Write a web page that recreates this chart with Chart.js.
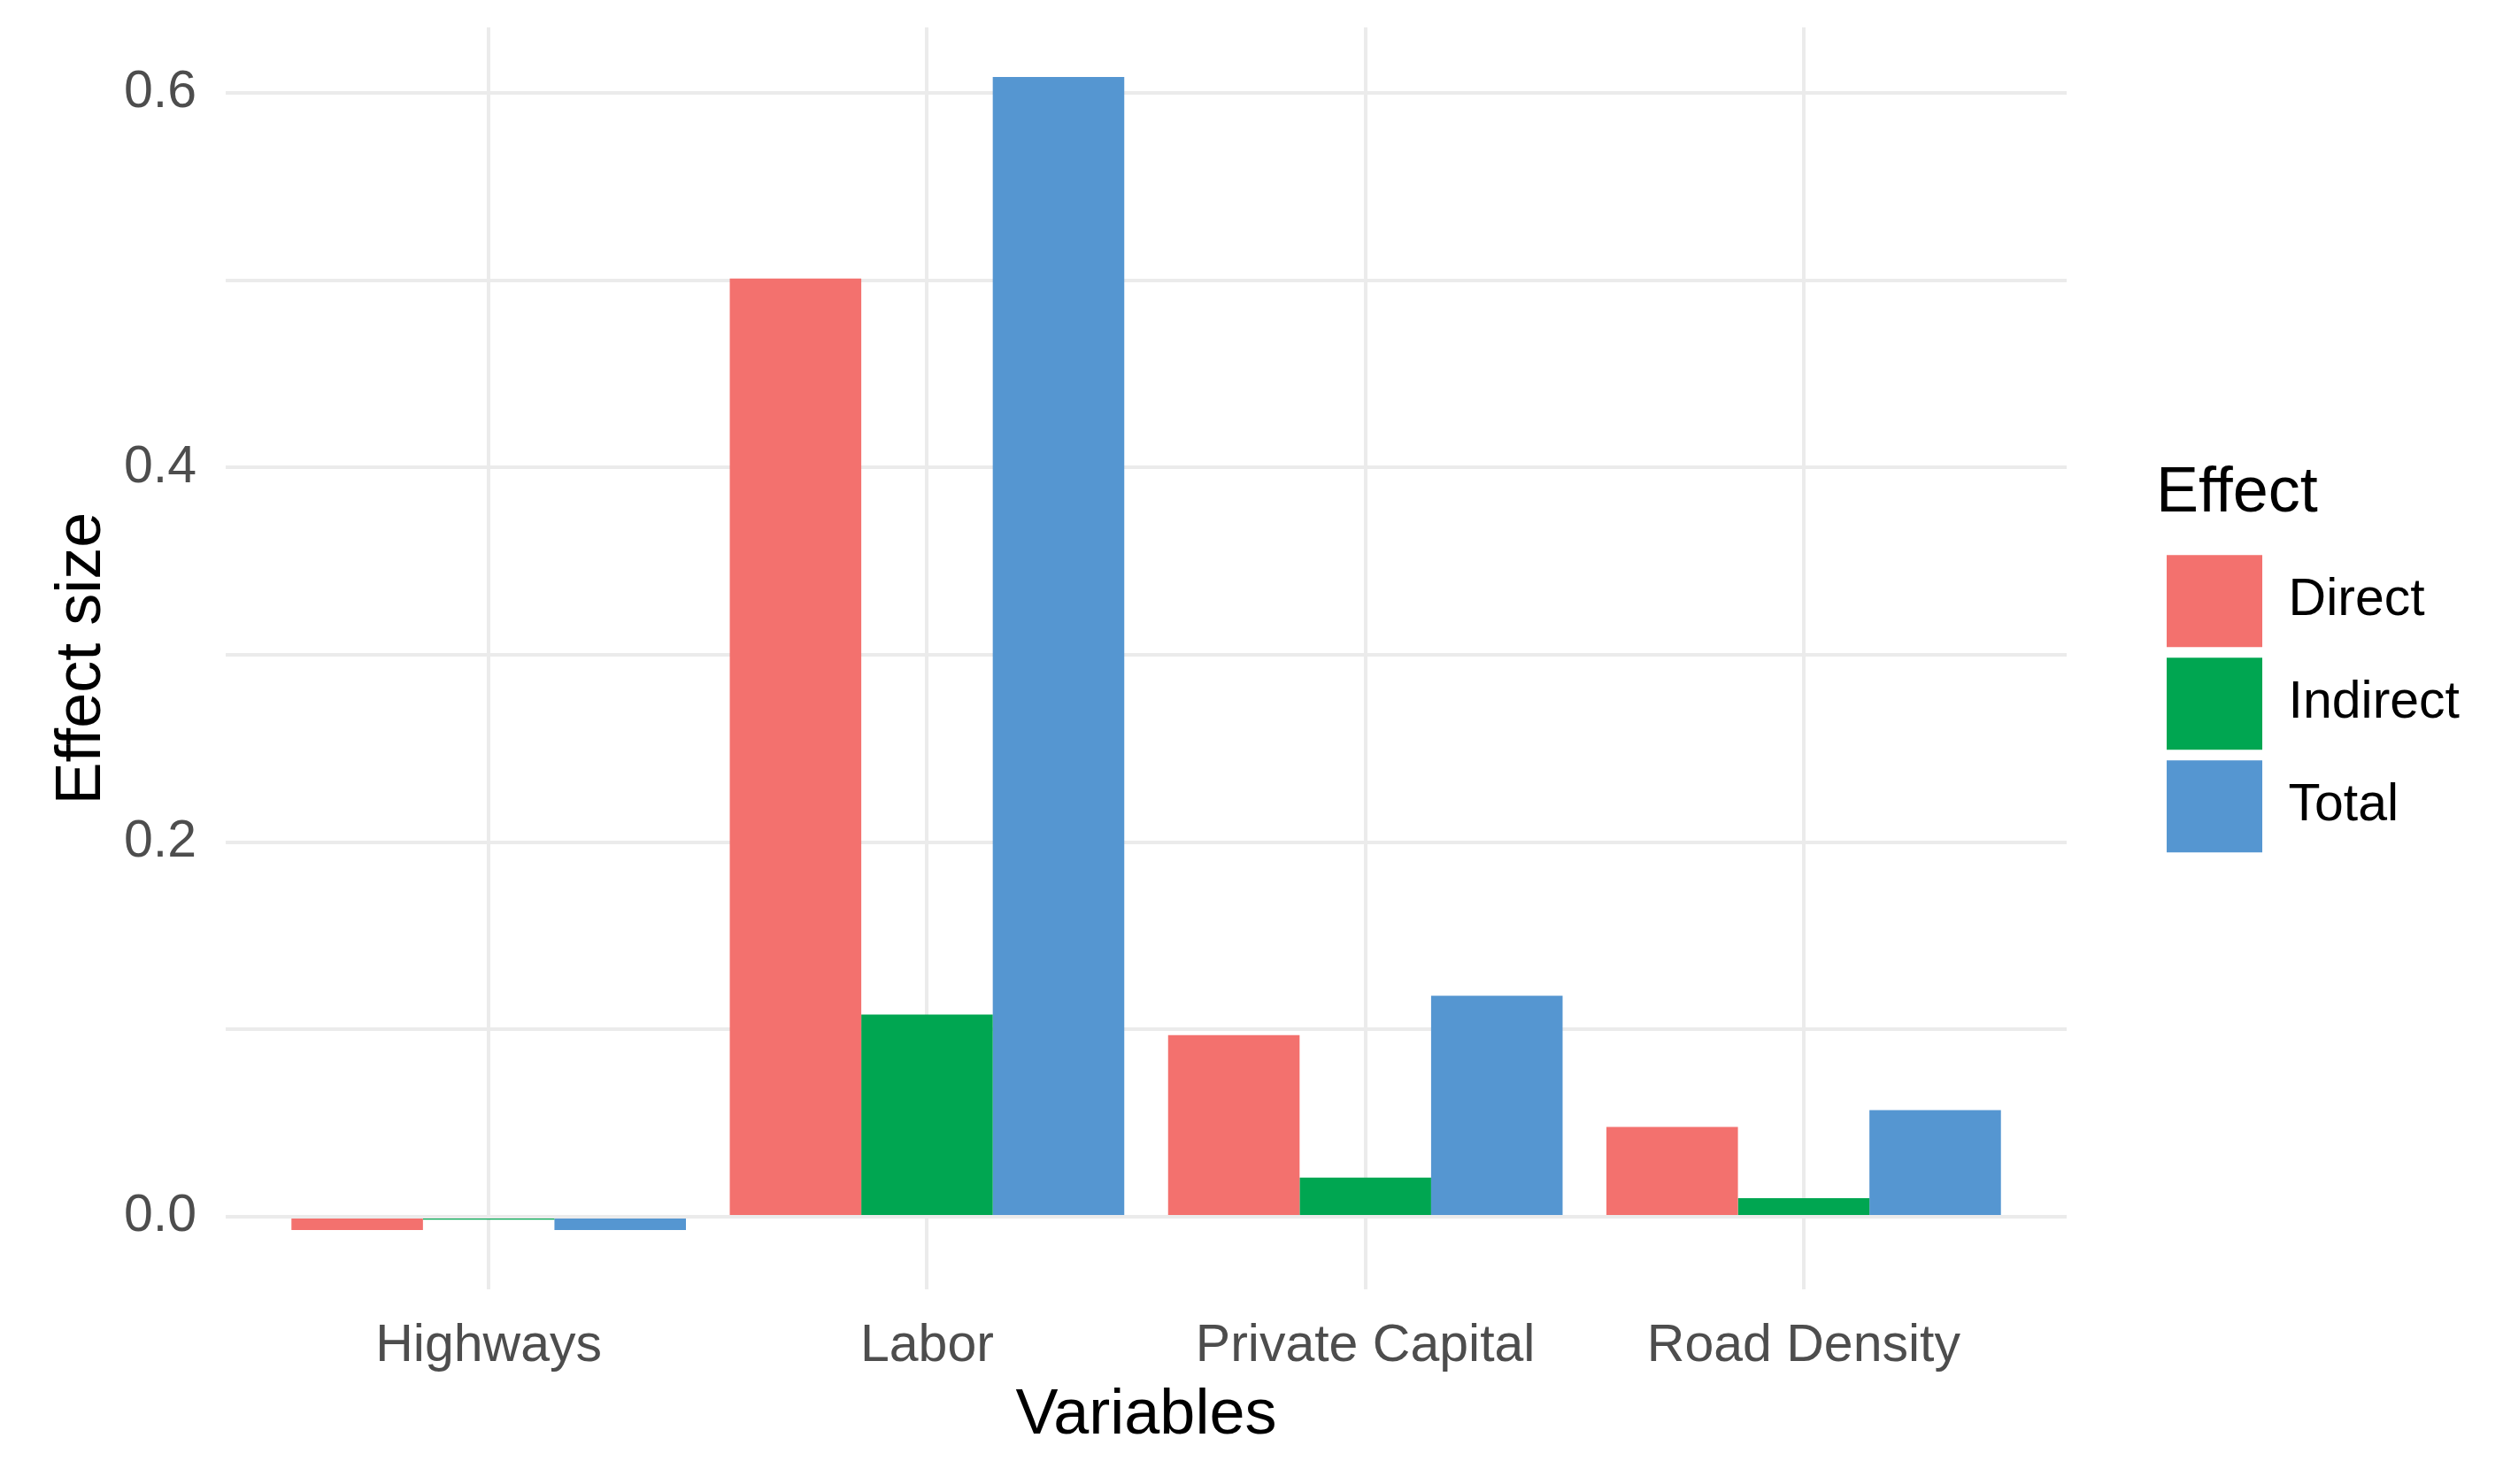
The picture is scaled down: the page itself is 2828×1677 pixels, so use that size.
<!DOCTYPE html>
<html>
<head>
<meta charset="utf-8">
<script src="https://cdn.jsdelivr.net/npm/chart.js@4/dist/chart.umd.min.js"></script>
<style>
  html, body { margin: 0; padding: 0; background: #fff; }
  #wrap { width: 2828px; height: 1677px; position: relative; }
</style>
</head>
<body>
<div id="wrap"><canvas id="myChart"></canvas></div>
<script>
// categories and series
const categories = ['Highways', 'Labor', 'Private Capital', 'Road Density'];
const direct = [-0.007, 0.501, 0.097, 0.048];
const indirect = [-0.0015, 0.108, 0.021, 0.010];
const total = [-0.007, 0.6085, 0.118, 0.057];

const yTicks = [0, 0.1, 0.2, 0.3, 0.4, 0.5, 0.6];
const yTickLabels = ['0.0', '', '0.2', '', '0.4', '', '0.6'];

const FONT = '"Liberation Sans", Arial, sans-serif';
const GRID = '#EBEBEB';

function toPoints(arr) {
  return arr.map((v, i) => ({ x: i, y: v }));
}

// no extra room for half tick labels at the ends
function noEdgePadding(scale) {
  scale.paddingTop = 0;
  scale.paddingBottom = 0;
  scale.paddingLeft = 0;
  scale.paddingRight = 0;
}

Chart.defaults.font.family = FONT;

var ctx = document.getElementById('myChart').getContext('2d');
var myChart = new Chart(ctx, {
  type: 'bar',
  data: {
    datasets: [{
      label: 'Direct',
      data: toPoints(direct),
      backgroundColor: '#F3716E',
      borderWidth: 0
    },
    {
      label: 'Indirect',
      data: toPoints(indirect),
      backgroundColor: '#00A651',
      borderWidth: 0
    },
    {
      label: 'Total',
      data: toPoints(total),
      backgroundColor: '#5596D1',
      borderWidth: 0
    }]
  },
  options: {
    responsive: true,
    maintainAspectRatio: false,
    animation: false,
    devicePixelRatio: 1,
    categoryPercentage: 0.9,
    barPercentage: 1.0,
    layout: {
      padding: { left: 50, top: 31, right: 39, bottom: 34 }
    },
    scales: {
      x: {
        type: 'linear',
        min: -0.6,
        max: 3.6,
        offset: false,
        grid: { color: GRID, lineWidth: 4, drawTicks: false, offset: false },
        border: { display: false },
        afterBuildTicks: function (scale) {
          scale.ticks = categories.map((c, i) => ({ value: i }));
        },
        afterFit: function (scale) { scale.height = 186; noEdgePadding(scale); },
        ticks: {
          autoSkip: false,
          maxRotation: 0,
          padding: 29,
          color: '#4D4D4D',
          font: { size: 59 },
          callback: function (value) { return categories[value]; }
        },
        title: {
          display: true,
          text: 'Variables',
          color: '#000',
          font: { size: 72 },
          padding: { top: 3, bottom: 0 }
        }
      },
      y: {
        type: 'linear',
        min: -0.0387,
        max: 0.635,
        grid: { color: GRID, lineWidth: 4, drawTicks: false },
        border: { display: false },
        afterBuildTicks: function (scale) {
          scale.ticks = yTicks.map(v => ({ value: v }));
        },
        afterFit: function (scale) { scale.width = 205; noEdgePadding(scale); },
        ticks: {
          padding: 33,
          color: '#4D4D4D',
          font: { size: 59 },
          callback: function (value, index) { return yTickLabels[index]; }
        },
        title: {
          display: true,
          text: 'Effect size',
          color: '#000',
          font: { size: 72 },
          padding: { top: 0, bottom: 4 }
        }
      },
      // empty spacer between the panel and the legend
      gap: {
        type: 'linear',
        axis: 'y',
        position: 'right',
        display: true,
        grid: { display: false },
        border: { display: false },
        ticks: { display: false },
        afterFit: function (scale) { scale.width = 101; noEdgePadding(scale); }
      }
    },
    plugins: {
      legend: {
        position: 'right',
        fullSize: false,
        align: 'center',
        title: {
          display: true,
          text: 'Effect',
          position: 'start',
          color: '#000',
          font: { size: 72 },
          padding: { top: 9, bottom: 7 }
        },
        labels: {
          boxWidth: 108,
          boxHeight: 104,
          padding: 12,
          color: '#000',
          font: { size: 59 }
        }
      },
      tooltip: { enabled: false }
    }
  }
});
</script>
</body>
</html>
